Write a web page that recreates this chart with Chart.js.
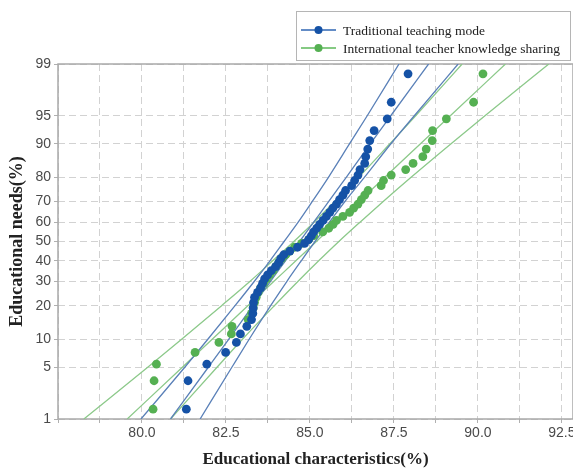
<!DOCTYPE html>
<html>
<head>
<meta charset="utf-8">
<script src="https://cdn.jsdelivr.net/npm/chart.js@4.4.1/dist/chart.umd.min.js"></script>
<style>
  html, body { margin: 0; padding: 0; background: #fff; }
</style>
</head>
<body>
<canvas id="plot" width="573" height="470"></canvas>
<script>
// ─── Data ────────────────────────────────────────────────────────────────────

// plotting positions (%) shared by both samples, n = 50
var probPct = [1.4, 3.4, 5.4, 7.3, 9.3, 11.3, 13.3, 15.3, 17.3, 19.2,
               21.2, 23.2, 25.2, 27.2, 29.2, 31.2, 33.1, 35.1, 37.1, 39.1,
               41.1, 43.1, 45.0, 47.0, 49.0, 51.0, 53.0, 55.0, 56.9, 58.9,
               60.9, 62.9, 64.9, 66.9, 68.8, 70.8, 72.8, 74.8, 76.8, 78.8,
               80.8, 82.7, 84.7, 86.7, 88.7, 90.7, 92.7, 94.6, 96.6, 98.6];

var traditionalX = [81.32, 81.37, 81.93, 82.49, 82.81, 82.93, 83.12, 83.26, 83.30, 83.31,
                    83.32, 83.35, 83.44, 83.53, 83.59, 83.65, 83.74, 83.85, 83.98, 84.07,
                    84.13, 84.22, 84.40, 84.63, 84.84, 84.96, 85.04, 85.11, 85.20, 85.29,
                    85.39, 85.49, 85.59, 85.68, 85.79, 85.88, 85.98, 86.06, 86.24, 86.33,
                    86.43, 86.49, 86.63, 86.66, 86.72, 86.78, 86.91, 87.30, 87.42, 87.92];

var sharingX = [80.33, 80.36, 80.43, 81.58, 82.29, 82.66, 82.68, 83.16, 83.26, 83.31,
                83.35, 83.40, 83.46, 83.53, 83.62, 83.71, 83.80, 83.90, 83.98, 84.07,
                84.16, 84.28, 84.40, 84.54, 84.75, 84.96, 85.11, 85.38, 85.56, 85.69,
                85.79, 85.98, 86.18, 86.30, 86.43, 86.53, 86.63, 86.73, 87.12, 87.19,
                87.42, 87.85, 88.07, 88.36, 88.46, 88.64, 88.65, 89.06, 89.87, 90.15];

// fitted line and 95% bands, read at these percent levels
var fitPct = [1, 5, 10, 20, 30, 40, 50, 60, 70, 80, 90, 95, 99];

var traditionalFit = [80.85, 81.98, 82.58, 83.30, 83.82, 84.27, 84.69, 85.11, 85.56, 86.08, 86.80, 87.40, 88.53];
var traditionalLo  = [79.97, 81.28, 81.96, 82.77, 83.34, 83.81, 84.23, 84.65, 85.07, 85.55, 86.18, 86.70, 87.65];
var traditionalHi  = [81.73, 82.68, 83.19, 83.83, 84.31, 84.74, 85.15, 85.58, 86.04, 86.62, 87.41, 88.10, 89.41];

var sharingFit = [79.56, 81.21, 82.09, 83.15, 83.92, 84.58, 85.19, 85.80, 86.46, 87.23, 88.29, 89.17, 90.82];
var sharingLo  = [78.27, 80.18, 81.18, 82.37, 83.21, 83.89, 84.52, 85.12, 85.74, 86.45, 87.38, 88.14, 89.53];
var sharingHi  = [80.85, 82.24, 82.99, 83.94, 84.64, 85.26, 85.86, 86.49, 87.18, 88.01, 89.20, 90.20, 92.11];

var yTickPct = [1, 5, 10, 20, 30, 40, 50, 60, 70, 80, 90, 95, 99];
var xLabelTicks = [80.0, 82.5, 85.0, 87.5, 90.0, 92.5];

var seriesNames = ['Traditional teaching mode', 'International teacher knowledge sharing'];

// ─── Probit scale helper ─────────────────────────────────────────────────────

// inverse normal CDF (Acklam)
function probit(p) {
    const a = [-39.69683028665376, 220.9460984245205, -275.9285104469687, 138.3577518672690, -30.66479806614716, 2.506628277459239];
    const b = [-54.47609879822406, 161.5858368580409, -155.6989798598866, 66.80131188771972, -13.28068155288572];
    const c = [-0.007784894002430293, -0.3223964580411365, -2.400758277161838, -2.549732539343734, 4.374664141464968, 2.938163982698783];
    const d = [0.007784695709041462, 0.3224671290700398, 2.445134137142996, 3.754408661907416];
    const pl = 0.02425;
    let q, r;
    if (p < pl) {
        q = Math.sqrt(-2 * Math.log(p));
        return (((((c[0]*q+c[1])*q+c[2])*q+c[3])*q+c[4])*q+c[5]) / ((((d[0]*q+d[1])*q+d[2])*q+d[3])*q+1);
    }
    if (p > 1 - pl) {
        q = Math.sqrt(-2 * Math.log(1 - p));
        return -(((((c[0]*q+c[1])*q+c[2])*q+c[3])*q+c[4])*q+c[5]) / ((((d[0]*q+d[1])*q+d[2])*q+d[3])*q+1);
    }
    q = p - 0.5; r = q * q;
    return (((((a[0]*r+a[1])*r+a[2])*r+a[3])*r+a[4])*r+a[5])*q / (((((b[0]*r+b[1])*r+b[2])*r+b[3])*r+b[4])*r+1);
}

function toPoints(xs, pcts) {
    return xs.map((x, i) => ({ x: x, y: probit(pcts[i] / 100) }));
}

// ─── Colours ─────────────────────────────────────────────────────────────────

const BLUE_PT  = '#1552a6';
const BLUE_LN  = '#5a80b8';
const GREEN_PT = '#55b052';
const GREEN_LN = '#8cc98a';

function lineSet(xs, color) {
    return {
        data: toPoints(xs, fitPct),
        showLine: true, pointRadius: 0, borderColor: color, borderWidth: 1.3,
        cubicInterpolationMode: 'monotone', order: 2
    };
}

// ─── Plugins: frame + legend box ─────────────────────────────────────────────

const frame = {
    id: 'frame',
    beforeDatasetsDraw(chart) {
        const { ctx, chartArea: a } = chart;
        ctx.save();
        ctx.strokeStyle = '#a9a9a9';
        ctx.lineWidth = 1.5;
        ctx.strokeRect(a.left, a.top, a.right - a.left, a.bottom - a.top);
        ctx.restore();
    }
};

const legendBox = {
    id: 'legendBox',
    afterDraw(chart) {
        const ctx = chart.ctx;
        const items = chart.data.datasets.filter(d => d.legendLine);
        ctx.save();
        ctx.fillStyle = '#fff';
        ctx.fillRect(296, 11, 274, 49);
        ctx.strokeStyle = '#b5b5b5';
        ctx.lineWidth = 1;
        ctx.strokeRect(296.5, 11.5, 274, 49);
        ctx.font = '13.5px "Liberation Serif", serif';
        ctx.textBaseline = 'middle';
        items.forEach((d, i) => {
            const y = 30 + i * 18;
            ctx.strokeStyle = d.legendLine;
            ctx.lineWidth = 1.5;
            ctx.beginPath(); ctx.moveTo(301, y); ctx.lineTo(336, y); ctx.stroke();
            ctx.fillStyle = d.backgroundColor;
            ctx.beginPath(); ctx.arc(318.5, y, 4, 0, Math.PI * 2); ctx.fill();
            ctx.fillStyle = '#222';
            ctx.fillText(d.label, 343, y + 1);
        });
        ctx.restore();
    }
};

// ─── Chart ───────────────────────────────────────────────────────────────────

const tickFont = { family: '"Liberation Sans", Arial, sans-serif', size: 14 };

new Chart(document.getElementById('plot'), {
    type: 'scatter',
    data: {
        datasets: [
            { label: seriesNames[0], data: toPoints(traditionalX, probPct), backgroundColor: BLUE_PT,
              borderColor: BLUE_PT, pointRadius: 4.4, pointBorderWidth: 0, legendLine: '#2f66b3', order: 0 },
            { label: seriesNames[1], data: toPoints(sharingX, probPct), backgroundColor: GREEN_PT,
              borderColor: GREEN_PT, pointRadius: 4.4, pointBorderWidth: 0, legendLine: '#5cb85a', order: 1 },
            lineSet(traditionalFit, BLUE_LN),
            lineSet(traditionalLo, BLUE_LN),
            lineSet(traditionalHi, BLUE_LN),
            lineSet(sharingFit, GREEN_LN),
            lineSet(sharingLo, GREEN_LN),
            lineSet(sharingHi, GREEN_LN)
        ]
    },
    options: {
        responsive: false,
        animation: false,
        layout: { autoPadding: false, padding: { top: 64, right: 0, left: 0, bottom: 0 } },
        plugins: { legend: { display: false }, tooltip: { enabled: false } },
        scales: {
            x: {
                type: 'linear',
                min: 77.5,
                max: 92.83,
                afterBuildTicks(scale) {
                    const t = [];
                    for (let v = 77.5; v <= 92.6; v += 1.25) t.push({ value: v });
                    scale.ticks = t;
                },
                afterFit(scale) { scale.height = 51; scale.paddingLeft = 0; scale.paddingRight = 0; },
                ticks: {
                    autoSkip: false, maxRotation: 0, padding: 2, color: '#4a4a4a', font: tickFont,
                    callback(v) {
                        return xLabelTicks.some(t => Math.abs(t - v) < 1e-6) ? v.toFixed(1) : '';
                    }
                },
                grid: { color: '#d2d2d2', tickLength: 4, tickColor: '#b0b0b0' },
                border: { display: false, dash: [7, 4] },
                title: {
                    display: true, text: 'Educational characteristics(%)', color: '#222',
                    font: { family: '"Liberation Serif", "Times New Roman", serif', size: 17, weight: 'bold' },
                    padding: { top: 0, bottom: 0 }
                }
            },
            y: {
                type: 'linear',
                min: probit(0.01),
                max: probit(0.99),
                afterBuildTicks(scale) {
                    scale.ticks = yTickPct.map(p => ({ value: probit(p / 100) }));
                },
                afterFit(scale) { scale.width = 58; scale.paddingTop = 0; scale.paddingBottom = 0; },
                ticks: {
                    autoSkip: false, padding: 3, color: '#4a4a4a', font: tickFont,
                    callback(v, i) { return String(yTickPct[i]); }
                },
                grid: { color: '#d2d2d2', tickLength: 4, tickColor: '#b0b0b0' },
                border: { display: false, dash: [7, 4] },
                title: {
                    display: true, text: 'Educational needs(%)', color: '#222',
                    font: { family: '"Liberation Serif", "Times New Roman", serif', size: 18, weight: 'bold' },
                    padding: { top: 7, bottom: 0 }
                }
            }
        }
    },
    plugins: [frame, legendBox]
});
</script>
</body>
</html>
